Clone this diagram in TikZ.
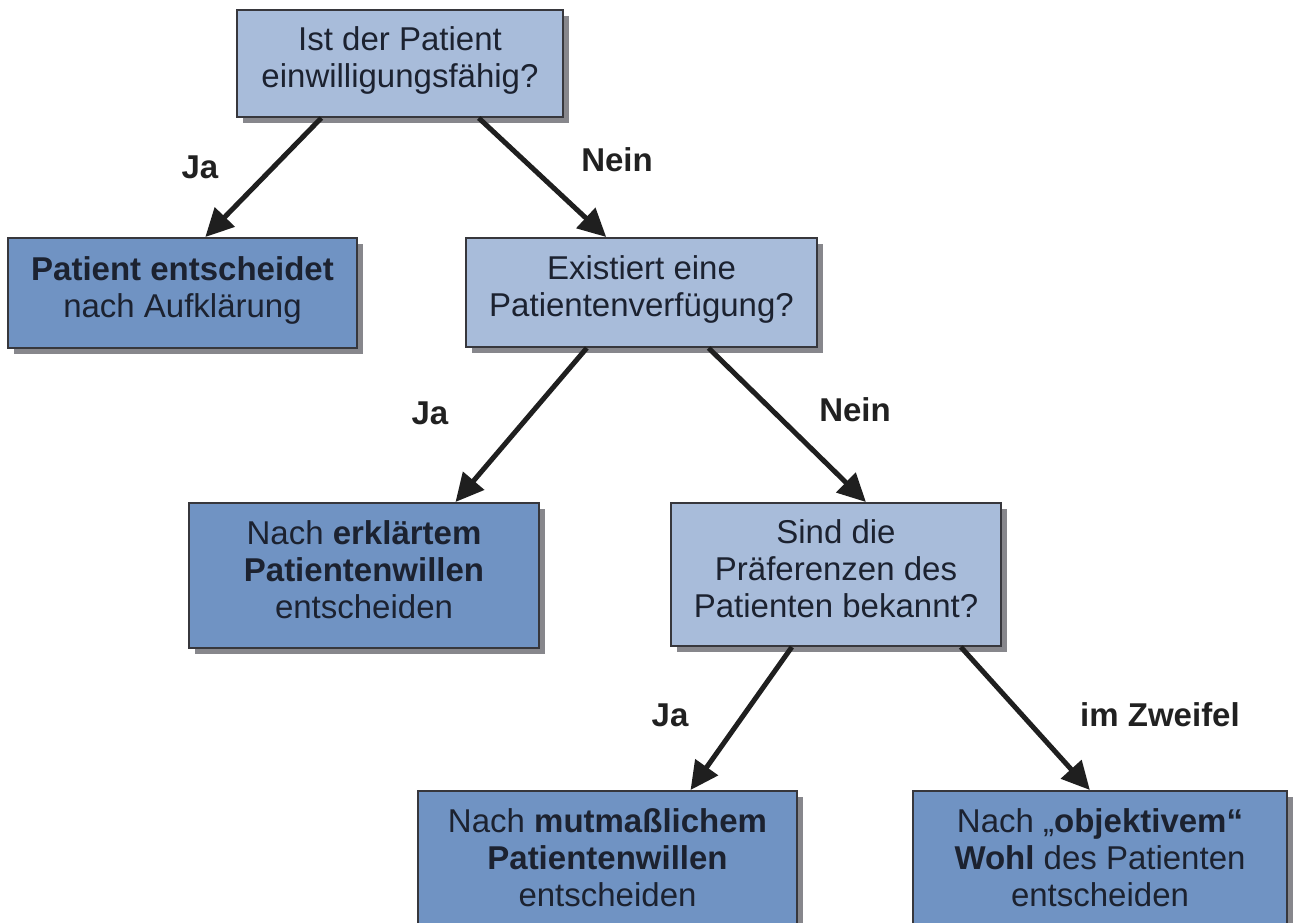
\documentclass[tikz,border=0pt]{standalone}
\usepackage{fontspec}
\setmainfont{Liberation Sans}
\usetikzlibrary{shadows,arrows.meta,calc}
\definecolor{lightbox}{RGB}{168,188,218}
\definecolor{darkbox}{RGB}{112,147,195}
\definecolor{txt}{RGB}{28,34,48}
\definecolor{bord}{RGB}{55,55,60}
\definecolor{shad}{RGB}{135,135,140}
\begin{document}
\begin{tikzpicture}[x=1pt,y=-1pt,
  box/.style={draw=bord, line width=2pt, text=txt, align=center,
    font=\fontsize{33}{37}\selectfont, inner sep=0pt, text depth=12pt,
    drop shadow={shadow xshift=6pt, shadow yshift=-6pt, fill=shad, opacity=1}},
  qbox/.style={box, fill=lightbox},
  abox/.style={box, fill=darkbox},
  arr/.style={-{Triangle[length=28pt,width=27pt]}, line width=5pt, draw=black!88},
  lab/.style={font=\fontsize{33}{37}\selectfont\bfseries, text=black!87}]
\clip (0,0) rectangle (1293,923);
\fill[white] (0,0) rectangle (1293,923);
\node[qbox, minimum width=326pt, minimum height=107pt] (q1) at (400,63.5)
  {Ist der Patient\\einwilligungsfähig?};
\node[abox, minimum width=349pt, minimum height=110pt] (a1) at (182.5,293)
  {\textbf{Patient entscheidet}\\nach Aufklärung};
\node[qbox, minimum width=351pt, minimum height=109pt] (q2) at (641.5,292.5)
  {Existiert eine\\Patientenverfügung?};
\node[abox, minimum width=350pt, minimum height=145pt] (a2) at (364,575.5)
  {Nach \textbf{erklärtem}\\\textbf{Patientenwillen}\\entscheiden};
\node[qbox, minimum width=330pt, minimum height=143pt] (q3) at (836,574.5)
  {Sind die\\Präferenzen des\\Patienten bekannt?};
\node[abox, minimum width=379pt, minimum height=146pt] (a3) at (607.5,864)
  {Nach \textbf{mutmaßlichem}\\\textbf{Patientenwillen}\\entscheiden};
\node[abox, minimum width=374pt, minimum height=146pt] (a4) at (1100,864)
  {Nach „\textbf{objektivem“}\\\textbf{Wohl} des Patienten\\entscheiden};

\draw[arr] ($(q1.south west)!0.26!(q1.south east)$) -- ($(a1.north west)!0.565!(a1.north east)$);
\draw[arr] ($(q1.south west)!0.74!(q1.south east)$) -- ($(q2.north west)!0.40!(q2.north east)$);
\draw[arr] ($(q2.south west)!0.345!(q2.south east)$) -- ($(a2.north west)!0.76!(a2.north east)$);
\draw[arr] ($(q2.south west)!0.69!(q2.south east)$) -- ($(q3.north west)!0.59!(q3.north east)$);
\draw[arr] ($(q3.south west)!0.367!(q3.south east)$) -- ($(a3.north west)!0.718!(a3.north east)$);
\draw[arr] ($(q3.south west)!0.876!(q3.south east)$) -- ($(a4.north west)!0.473!(a4.north east)$);

\node[lab] (l1) at (200,167) {Ja};
\node[lab] (l2) at (617,160) {Nein};
\node[lab] (l3) at (430,413) {Ja};
\node[lab] (l4) at (855,410) {Nein};
\node[lab] (l5) at (670,715) {Ja};
\node[lab] (l6) at (1160,715) {im Zweifel};
\end{tikzpicture}
\end{document}
